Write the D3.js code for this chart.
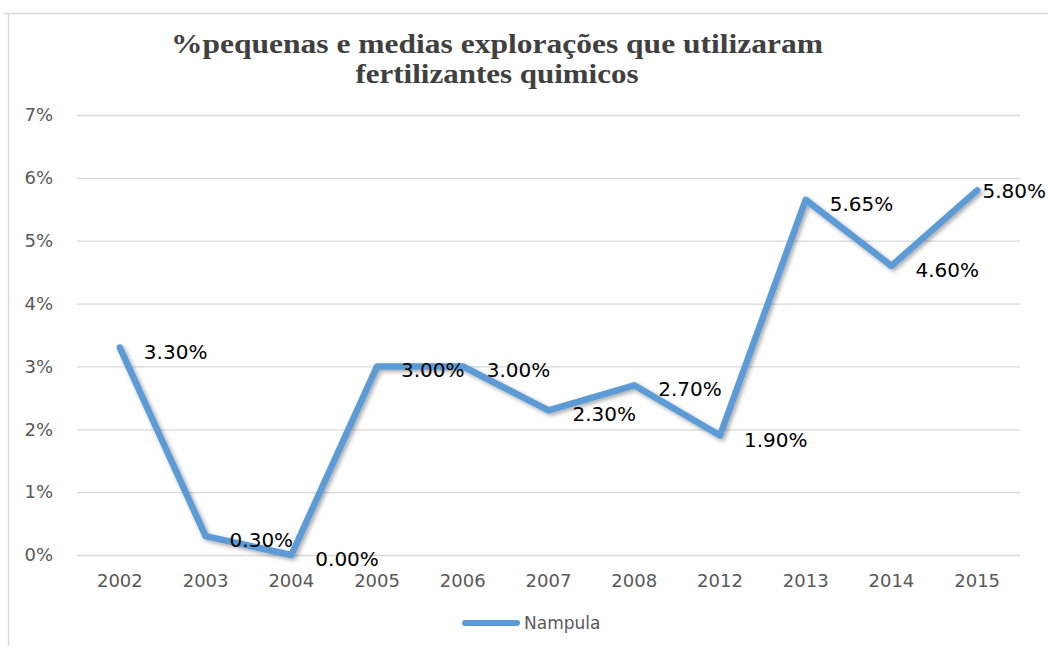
<!DOCTYPE html>
<html><head><meta charset="utf-8">
<script src="https://cdn.jsdelivr.net/npm/d3@7"></script>
<style>body{margin:0;background:#fff}svg{display:block}</style>
</head><body>
<svg id="c" width="1048" height="646"></svg>
<script>
const categories = ["2002","2003","2004","2005","2006","2007","2008","2012","2013","2014","2015"];
const values = [3.30, 0.30, 0.00, 3.00, 3.00, 2.30, 2.70, 1.90, 5.65, 4.60, 5.80];
const labels = ["3.30%","0.30%","0.00%","3.00%","3.00%","2.30%","2.70%","1.90%","5.65%","4.60%","5.80%"];
const yTicks = [0,1,2,3,4,5,6,7];
const seriesName = "Nampula";
const titleLines = ["%pequenas e medias explorações que utilizaram","fertilizantes quimicos"];

(function(){
const svg = d3.select("#c");
const color = "#5B9BD5";
const pL = 77, pR = 1020, pT = 115, pB = 555;

svg.append("line").attr("x1",4).attr("x2",1048).attr("y1",13.5).attr("y2",13.5).attr("stroke","#d9d9d9").attr("stroke-width",1.5);
svg.append("line").attr("x1",8.5).attr("x2",8.5).attr("y1",13).attr("y2",646).attr("stroke","#d9d9d9").attr("stroke-width",1.5);

const x = d3.scaleBand().domain(categories).range([pL, pR]);
const y = d3.scaleLinear().domain([0,7]).range([pB, pT]);

const gAxisY = svg.append("g").attr("transform",`translate(${pL},0)`)
  .call(d3.axisLeft(y).tickValues(yTicks).tickSize(-(pR-pL)).tickFormat(d=>d+"%").tickPadding(24));
gAxisY.select(".domain").remove();
gAxisY.selectAll(".tick line").attr("stroke","#d9d9d9").attr("stroke-width",1.3);
gAxisY.selectAll(".tick text").attr("fill","#595959").attr("font-family","DejaVu Sans").attr("font-size","18px");

const gAxisX = svg.append("g").attr("transform",`translate(0,${pB})`)
  .call(d3.axisBottom(x).tickSize(0).tickPadding(19));
gAxisX.select(".domain").remove();
gAxisX.selectAll(".tick text").attr("fill","#595959").attr("font-family","DejaVu Sans").attr("font-size","18px");

const defs = svg.append("defs");
const f = defs.append("filter").attr("id","sh").attr("x","-10%").attr("y","-10%").attr("width","120%").attr("height","120%");
f.append("feDropShadow").attr("dx",2).attr("dy",2).attr("stdDeviation",2).attr("flood-color","#000").attr("flood-opacity",0.35);

const cx = d => x(d) + x.bandwidth()/2;
const line = d3.line().x((d,i)=>cx(categories[i])).y(d=>y(d));
svg.append("path").datum(values).attr("d",line).attr("fill","none")
  .attr("stroke",color).attr("stroke-width",6.5).attr("stroke-linejoin","round").attr("stroke-linecap","round")
  .attr("filter","url(#sh)");

const lab = svg.append("g").selectAll("text").data(values).join("text")
  .attr("x",(d,i)=>cx(categories[i])+24)
  .attr("y",(d,i)=>y(d)+4)
  .attr("dy","0.35em")
  .attr("font-family","DejaVu Sans").attr("font-size","20px").attr("fill","#000")
  .text((d,i)=>labels[i]);
lab.each(function(){
  const w = this.getComputedTextLength();
  const xx = +this.getAttribute("x");
  if (xx + w > 1046) { this.setAttribute("x", 1046 - w); this.setAttribute("y", +this.getAttribute("y") - 3); }
});

const tl = svg.append("g");
const tw = [652, 283];
const ty = [53, 83];
titleLines.forEach((t,i)=>{
  tl.append("text").attr("x",497).attr("y",ty[i]).attr("text-anchor","middle")
    .attr("font-family","Liberation Serif").attr("font-weight","bold").attr("font-size","28px").attr("fill","#404040")
    .attr("textLength",tw[i]).attr("lengthAdjust","spacingAndGlyphs").text(t);
});

const lg = svg.append("g");
lg.append("line").attr("x1",465).attr("x2",517).attr("y1",623).attr("y2",623).attr("stroke",color).attr("stroke-width",6).attr("stroke-linecap","round");
lg.append("text").attr("x",524).attr("y",623).attr("dy","0.35em").attr("font-family","DejaVu Sans").attr("font-size","17px").attr("fill","#595959").text(seriesName);
})();
</script>
</body></html>
